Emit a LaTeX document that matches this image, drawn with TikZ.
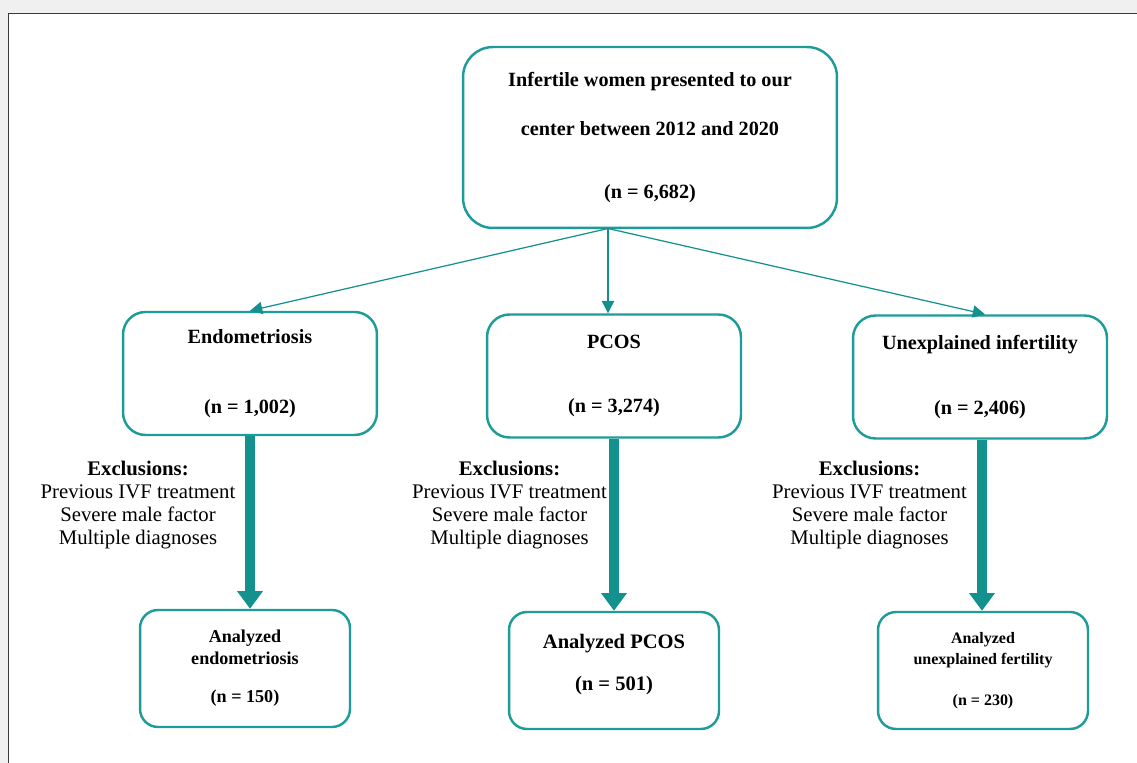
\documentclass[tikz,border=0pt]{standalone}
\usepackage{fontspec}
\setmainfont{Liberation Serif}
\usetikzlibrary{arrows.meta, positioning}
\definecolor{FlowTeal}{HTML}{1E9C99}
\definecolor{FlowArrow}{HTML}{12918F}
\definecolor{FlowFrame}{HTML}{3A3A3A}
\definecolor{FlowBack}{HTML}{F0F0F0}
\tikzset{
    % Box styles
    mainbox/.style={
        rectangle,
        rounded corners=0.6cm,
        draw=FlowTeal,
        fill=white,
        line width=1.4pt,
        minimum width=7.48cm,
        minimum height=3.62cm,
        align=center,
        font=\fontsize{11.5}{13.8}\selectfont\bfseries
    },
    groupbox/.style={
        rectangle,
        rounded corners=0.45cm,
        draw=FlowTeal,
        fill=white,
        line width=1.4pt,
        minimum width=5.08cm,
        minimum height=2.46cm,
        align=center,
        font=\fontsize{11.5}{13.8}\selectfont\bfseries
    },
    analyzedbox/.style={
        rectangle,
        rounded corners=0.36cm,
        draw=FlowTeal,
        fill=white,
        line width=1.4pt,
        minimum width=4.2cm,
        minimum height=2.34cm,
        align=center
    },
    exclusiontext/.style={
        align=center,
        font=\fontsize{11.8}{13.2}\selectfont
    },
    % Arrow styles
    thinarrow/.style={
        -{Triangle[width=7pt,length=7pt]},
        line width=0.7pt,
        FlowArrow
    },
    thickarrow/.style={
        -{Triangle[width=14pt,length=10pt]},
        line width=5.7pt,
        FlowArrow
    }
}
\begin{document}
\begin{tikzpicture}[x=0.02cm, y=-0.02cm]
    % Background and frame
    \useasboundingbox (0,0) rectangle (1137,763);
    \fill[FlowBack] (0,0) rectangle (1137,763);
    \draw[FlowFrame, line width=1pt, fill=white] (8.5,13.5) rectangle (1150,780);

    % Population
    \node[mainbox] (infertile) at (650,137.5) {Infertile women presented to our\\[14pt] center between 2012 and 2020\\[22pt] (n = 6,682)};

    % Diagnosis groups
    \node[groupbox] (endo) at (250,373.5) {Endometriosis\\[26pt] (n = 1,002)};
    \node[groupbox] (pcos) at (614,376) {PCOS\\[23pt] (n = 3,274)};
    \node[groupbox] (unexpl) at (980,377) {Unexplained infertility\\[23.5pt] (n = 2,406)};

    % Analyzed groups
    \node[analyzedbox] (anaendo) at (245,668.5) {\fontsize{10.3}{12.5}\selectfont\bfseries Analyzed\\ \fontsize{10.3}{12.5}\selectfont\bfseries endometriosis\\[10pt] \fontsize{10.3}{12.5}\selectfont\bfseries (n = 150)};
    \node[analyzedbox, text depth=9.4pt] (anapcos) at (614,670.5) {\fontsize{11.7}{14}\selectfont\bfseries Analyzed PCOS\\[11.5pt] \fontsize{11.7}{14}\selectfont\bfseries (n = 501)};
    \node[analyzedbox] (anaunexpl) at (983,670.5) {\fontsize{9.1}{11.9}\selectfont\bfseries Analyzed\\ \fontsize{9.1}{11.9}\selectfont\bfseries unexplained fertility\\[11.3pt] \fontsize{9.1}{11.9}\selectfont\bfseries (n = 230)};

    % Exclusions
    \node[exclusiontext] (exendo) at (138,505) {\textbf{Exclusions:}\\ Previous IVF treatment\\ Severe male factor\\ Multiple diagnoses};
    \node[exclusiontext] (expcos) at (509.5,505) {\textbf{Exclusions:}\\ Previous IVF treatment\\ Severe male factor\\ Multiple diagnoses};
    \node[exclusiontext] (exunexpl) at (869.5,505) {\textbf{Exclusions:}\\ Previous IVF treatment\\ Severe male factor\\ Multiple diagnoses};

    % Split point
    \coordinate (split) at (608,228.5);

    % Arrows
    \draw[thinarrow] (split) -- (endo.north);
    \draw[thinarrow] (split) -- (split |- pcos.north);
    \draw[thinarrow] (split) -- ([xshift=0.1cm]unexpl.north);
    \draw[thickarrow] (endo.south) -- (endo.south |- anaendo.north);
    \draw[thickarrow] (pcos.south) -- (anapcos.north);
    \draw[thickarrow] ([xshift=0.04cm]unexpl.south) -- ([xshift=0.04cm]unexpl.south |- anaunexpl.north);
\end{tikzpicture}
\end{document}
